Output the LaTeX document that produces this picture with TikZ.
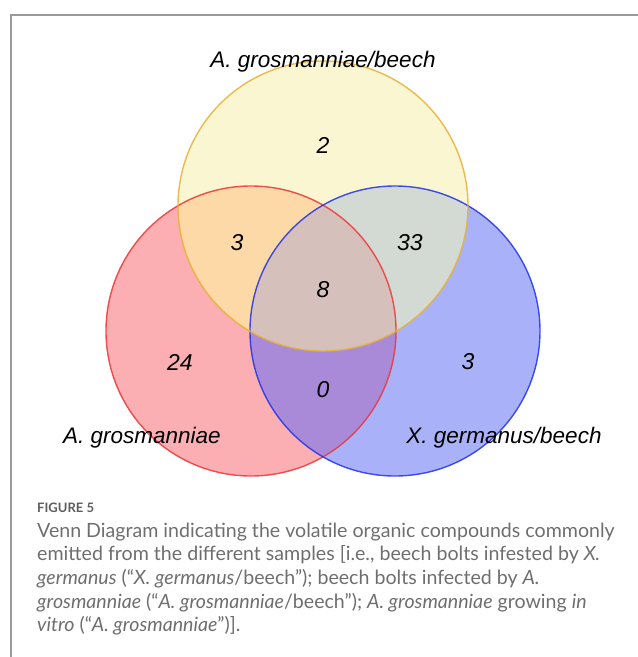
\documentclass[tikz,border=0pt]{standalone}
\usepackage{fontspec}
\setmainfont{Liberation Sans}
\newfontfamily\vennfont{Liberation Sans}
\newfontfamily\capfont{Lato}

% region colours
\definecolor{cYel}{HTML}{FAF6D2}
\definecolor{cRed}{HTML}{FBAFB2}
\definecolor{cBlu}{HTML}{A9B2F8}
\definecolor{cRY}{HTML}{FDD9A8}
\definecolor{cYB}{HTML}{D3D9D3}
\definecolor{cRB}{HTML}{A98AD8}
\definecolor{cRYB}{HTML}{D6C0BC}
% outline colours
\definecolor{lYel}{HTML}{E8B030}
\definecolor{lRed}{HTML}{EE3535}
\definecolor{lBlu}{HTML}{2233E8}
\definecolor{frameGray}{HTML}{9A9A9A}
\definecolor{capGray}{HTML}{6E6E6E}
\definecolor{figGray}{HTML}{5E5E5E}

\tikzset{
  setlabel/.style={inner sep=0pt, anchor=base, font=\vennfont\itshape\fontsize{22.5}{27}\selectfont},
  count/.style={inner sep=0pt, anchor=center, font=\vennfont\itshape\fontsize{23}{27}\selectfont},
  capline/.style={inner sep=0pt, anchor=base west, text=capGray, font=\capfont\fontsize{19.6}{23}\selectfont},
  ring/.style={line width=1.4pt, draw opacity=0.85}
}

\begin{document}
\begin{tikzpicture}[x=1pt,y=-1pt]
\useasboundingbox (0,0) rectangle (638,657);

% panel frame
\draw[frameGray, line width=1.5pt] (11,657) -- (11,15) -- (638,15);

% circle centres and radius
\coordinate (cy) at (323,206);
\coordinate (cr) at (251,331);
\coordinate (cb) at (395,331);
\def\rad{145}

% single-set regions
\fill[cYel] (cy) circle (\rad);
\fill[cRed] (cr) circle (\rad);
\fill[cBlu] (cb) circle (\rad);

% pairwise overlaps
\begin{scope}
  \clip (cr) circle (\rad);
  \fill[cRY] (cy) circle (\rad);
  \fill[cRB] (cb) circle (\rad);
\end{scope}
\begin{scope}
  \clip (cy) circle (\rad);
  \fill[cYB] (cb) circle (\rad);
\end{scope}
% triple overlap
\begin{scope}
  \clip (cr) circle (\rad);
  \clip (cy) circle (\rad);
  \fill[cRYB] (cb) circle (\rad);
\end{scope}

% outlines
\draw[ring, lRed] (cr) circle (\rad);
\draw[ring, lBlu] (cb) circle (\rad);
\draw[ring, lYel] (cy) circle (\rad);

% set names
\node[setlabel] (labY) at (323,67) {A. grosmanniae/beech};
\node[setlabel] (labR) at (142,443) {A. grosmanniae};
\node[setlabel] (labB) at (504,443) {X. germanus/beech};

% counts
\node[count] (nY)   at (323,145) {2};
\node[count] (nRY)  at (237,243) {3};
\node[count] (nYB)  at (410,243) {33};
\node[count] (nRYB) at (323,290) {8};
\node[count] (nR)   at (180,362) {24};
\node[count] (nB)   at (468,362) {3};
\node[count] (nRB)  at (323,390) {0};

% caption
\node[inner sep=0pt, anchor=base west, text=figGray, font=\capfont\bfseries\fontsize{13}{16}\selectfont] (fig) at (37,512) {FIGURE 5};
\node[capline] (c1) at (37,537) {Venn Diagram indicating the volatile organic compounds commonly};
\node[capline] (c2) at (37,560) {emitted from the different samples [i.e., beech bolts infested by \textit{X.}};
\node[capline] (c3) at (37,584) {\textit{germanus} (“\textit{X. germanus}/beech”); beech bolts infected by \textit{A.}};
\node[capline] (c4) at (37,608) {\textit{grosmanniae} (“\textit{A. grosmanniae}/beech”); \textit{A. grosmanniae} growing \textit{in}};
\node[capline] (c5) at (37,631) {\textit{vitro} (“\textit{A. grosmanniae}”)].};
\end{tikzpicture}
\end{document}
